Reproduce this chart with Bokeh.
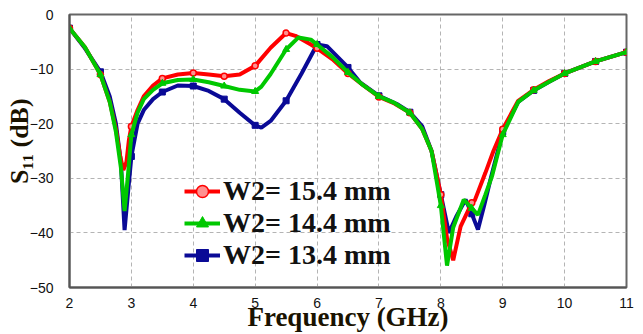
from bokeh.plotting import figure
from bokeh.models import Legend, LegendItem, FixedTicker, Range1d
from bokeh.embed import file_html
from bokeh.resources import INLINE

# ---- data ----
f_154 = [2.0, 2.25, 2.5, 2.65, 2.75, 2.82, 2.87, 2.92, 2.96, 3.0, 3.1, 3.2, 3.35, 3.5, 3.75, 4.0,
         4.25, 4.5, 4.75, 5.0, 5.25, 5.5, 5.65, 5.9, 6.0, 6.25, 6.5, 6.75, 7.0, 7.25, 7.5, 7.7,
         7.85, 8.0, 8.1, 8.2, 8.32, 8.5, 8.55, 8.72, 8.85, 9.0, 9.25, 9.5, 9.75, 10.0, 10.5, 11.0]
s_154 = [-2.5, -6.0, -11.0, -16.0, -21.0, -26.0, -28.5, -27.0, -23.0, -20.5, -17.5, -15.0, -13.0, -11.7, -11.0, -10.7,
         -11.0, -11.3, -11.0, -9.4, -6.1, -3.4, -3.9, -5.5, -6.2, -8.2, -10.8, -13.0, -15.1, -16.3, -18.0, -21.0,
         -25.0, -33.0, -41.0, -45.0, -38.8, -34.5, -34.0, -29.0, -25.0, -21.0, -15.8, -13.8, -12.2, -10.8, -8.6, -6.9]

f_144 = [2.0, 2.25, 2.5, 2.65, 2.75, 2.83, 2.89, 2.94, 3.0, 3.1, 3.2, 3.35, 3.5, 3.75, 4.0, 4.25,
         4.5, 4.75, 5.0, 5.1, 5.25, 5.5, 5.7, 5.9, 6.0, 6.25, 6.5, 6.75, 7.0, 7.25, 7.5, 7.7,
         7.85, 8.0, 8.1, 8.2, 8.37, 8.5, 8.6, 8.72, 8.83, 9.0, 9.25, 9.5, 9.75, 10.0, 10.5, 11.0]
s_144 = [-2.5, -6.0, -11.0, -16.0, -21.5, -28.0, -36.0, -30.0, -22.0, -18.0, -15.5, -13.8, -12.6, -12.0, -11.9, -12.4,
         -13.1, -13.8, -14.1, -13.2, -10.9, -6.4, -4.2, -4.6, -5.5, -7.8, -10.6, -13.0, -15.0, -16.2, -18.0, -21.0,
         -25.0, -35.0, -46.0, -39.0, -33.9, -35.5, -36.7, -33.0, -29.5, -22.0, -16.0, -13.9, -12.3, -10.8, -8.6, -6.9]

f_134 = [2.0, 2.25, 2.5, 2.65, 2.75, 2.83, 2.89, 2.95, 3.0, 3.1, 3.2, 3.35, 3.5, 3.75, 4.0, 4.25,
         4.5, 4.75, 5.0, 5.1, 5.25, 5.5, 5.75, 6.0, 6.16, 6.5, 6.7, 7.0, 7.29, 7.5, 7.7, 7.85,
         8.0, 8.13, 8.25, 8.4, 8.5, 8.6, 8.7, 8.8, 9.0, 9.25, 9.5, 9.75, 10.0, 10.5, 11.0]
s_134 = [-2.5, -6.2, -10.5, -15.0, -20.0, -27.0, -39.5, -32.0, -26.0, -20.0, -17.5, -15.5, -14.2, -13.0, -13.1, -14.0,
         -15.5, -18.0, -20.3, -20.7, -19.5, -15.8, -10.8, -5.5, -5.8, -9.7, -12.5, -14.9, -16.4, -17.9, -20.5, -25.0,
         -33.0, -40.0, -37.0, -33.9, -36.5, -39.4, -35.0, -30.3, -21.5, -16.0, -13.9, -12.3, -10.8, -8.6, -6.9]

labels = ["W2= 15.4 mm", "W2= 14.4 mm", "W2= 13.4 mm"]
x_ticks = [2, 3, 4, 5, 6, 7, 8, 9, 10, 11]
y_ticks = [-50, -40, -30, -20, -10, 0]


def markers_of(fs, ss):
    mx, my = [], []
    for a, b in zip(fs, ss):
        if abs(a * 2 - round(a * 2)) < 1e-9:
            mx.append(a)
            my.append(b)
    return mx, my


SERIF = "Times New Roman"

p = figure(width=643, height=334, output_backend="svg", toolbar_location=None,
           x_range=Range1d(2, 11), y_range=Range1d(-50, 0),
           min_border_left=69, min_border_right=17, min_border_top=14, min_border_bottom=46)
p.background_fill_color = "white"
p.border_fill_color = "white"
p.outline_line_color = "#666666"
p.outline_line_width = 2

RED = "#ff0000"
GREEN = "#00c800"
BLUE = "#0a0a96"

# draw order: blue, red, green on top
lb = p.line(f_134, s_134, line_color=BLUE, line_width=4)
mx, my = markers_of(f_134, s_134)
sb = p.scatter(mx, my, marker="square", size=6, fill_color=BLUE, line_color=BLUE)

lr = p.line(f_154, s_154, line_color=RED, line_width=4)
mx, my = markers_of(f_154, s_154)
sr = p.scatter(mx, my, marker="circle", size=6, fill_color="#ff9090", line_color=RED, line_width=1.5)

lg = p.line(f_144, s_144, line_color=GREEN, line_width=4)
mx, my = markers_of(f_144, s_144)
sg = p.scatter(mx, my, marker="triangle", size=7, fill_color=GREEN, line_color=GREEN)

# axes
for ax in (p.xaxis[0], p.yaxis[0]):
    ax.axis_line_color = "#555555"
    ax.axis_line_width = 2
    ax.major_tick_line_color = None
    ax.minor_tick_line_color = None
    ax.major_label_text_font = "Liberation Sans"
    ax.major_label_text_font_size = "14px"
    ax.major_label_text_color = "#111111"
    ax.axis_label_text_font = SERIF
    ax.axis_label_text_font_style = "bold"
    ax.axis_label_text_color = "#1a1200"

p.xaxis.axis_label_text_font_size = "27px"
p.yaxis.axis_label_text_font_size = "26px"
p.xaxis.ticker = FixedTicker(ticks=x_ticks)
p.yaxis.ticker = FixedTicker(ticks=y_ticks)
p.xaxis.major_label_standoff = 4
p.yaxis.major_label_standoff = 10
p.xaxis.axis_label = "Frequency (GHz)"
p.yaxis.axis_label = "\u2002\u00a0S\u2081\u2081 (dB)"
p.xaxis.axis_label_standoff = -9
p.yaxis.axis_label_standoff = -7

p.xgrid.grid_line_color = "#b4b4b4"
p.ygrid.grid_line_color = "#b4b4b4"
p.xgrid.grid_line_dash = "4 3"
p.ygrid.grid_line_dash = "4 3"
p.xgrid.grid_line_width = 1
p.ygrid.grid_line_width = 1

legend = Legend(items=[
    LegendItem(label=labels[0], renderers=[lr, sr]),
    LegendItem(label=labels[1], renderers=[lg, sg]),
    LegendItem(label=labels[2], renderers=[lb, sb]),
], location=(115, 16))
legend.background_fill_alpha = 0
legend.border_line_alpha = 0
legend.label_text_font = SERIF
legend.label_text_font_style = "bold"
legend.label_text_font_size = "28px"
legend.label_text_color = "#111111"
legend.glyph_width = 36
legend.glyph_height = 30
legend.label_height = 30
legend.spacing = 0
legend.padding = 0
legend.margin = 0
legend.label_standoff = 3
p.add_layout(legend)

open("out.html", "w").write(file_html(p, INLINE))
